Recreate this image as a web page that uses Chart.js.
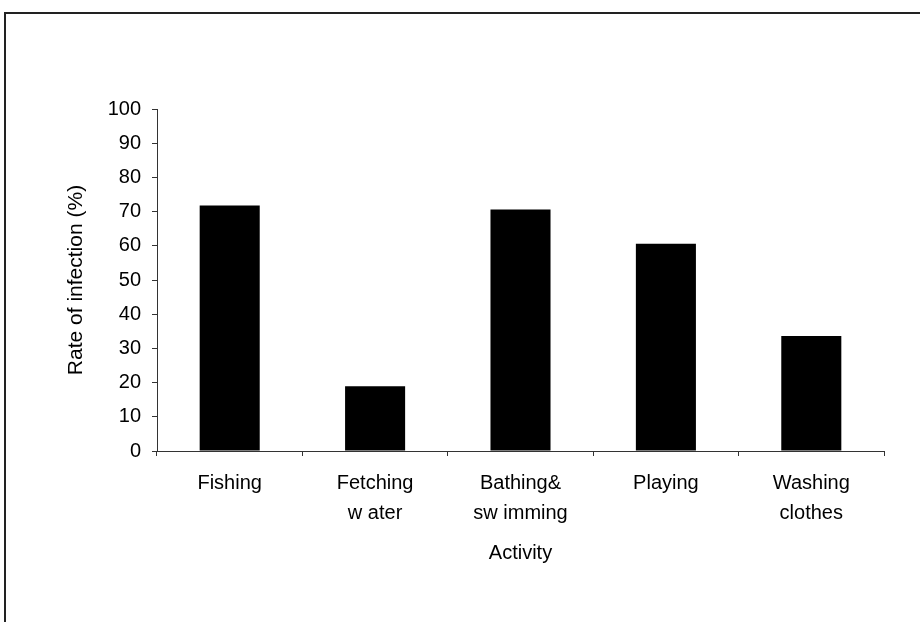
<!DOCTYPE html>
<html>
<head>
<meta charset="utf-8">
<title>Rate of infection by activity</title>
<script src="https://cdn.jsdelivr.net/npm/chart.js@4/dist/chart.umd.min.js"></script>
<style>
  html, body { margin: 0; padding: 0; background: #fff; }
  #wrap { width: 920px; height: 622px; position: relative; }
</style>
</head>
<body>
<div id="wrap"><canvas id="c" width="920" height="622"></canvas></div>
<script>
// Activities (two-line labels are given as arrays)
const activities = [
  'Fishing',
  ['Fetching', 'w ater'],
  ['Bathing&', 'sw imming'],
  'Playing',
  ['Washing', 'clothes']
];
// Rate of infection (%) per activity
const infectionRate = [71.8, 18.9, 70.6, 60.6, 33.6];
// Value axis range
const yMin = 0;
const yMax = 100;
const yStep = 10;

const FONT = "'Liberation Sans', Arial, sans-serif";
const INK = '#000';
const AXIS = '#333';

// Thin frame along the top and left edges of the figure
const framePlugin = {
  id: 'frame',
  beforeDraw(chart) {
    const ctx = chart.ctx;
    ctx.save();
    ctx.fillStyle = '#fff';
    ctx.fillRect(0, 0, chart.width, chart.height);
    ctx.strokeStyle = '#222';
    ctx.lineWidth = 2;
    ctx.beginPath();
    ctx.moveTo(5, chart.height);
    ctx.lineTo(5, 13);
    ctx.lineTo(chart.width, 13);
    ctx.stroke();
    ctx.restore();
  }
};

new Chart(document.getElementById('c'), {
  type: 'bar',
  data: {
    labels: activities,
    datasets: [{
      data: infectionRate,
      backgroundColor: '#000',
      borderWidth: 0,
      categoryPercentage: 1.0,
      barPercentage: 0.413
    }]
  },
  options: {
    responsive: false,
    animation: false,
    devicePixelRatio: 1,
    layout: { padding: { top: 109, right: 36, bottom: 0, left: 0 } },
    plugins: {
      legend: { display: false },
      tooltip: { enabled: false }
    },
    scales: {
      x: {
        grid: {
          offset: true,
          drawOnChartArea: false,
          drawTicks: true,
          tickLength: 5,
          color: AXIS,
          lineWidth: 1
        },
        border: { display: true, color: AXIS, width: 1 },
        ticks: {
          color: INK,
          padding: 12,
          maxRotation: 0,
          autoSkip: false,
          font: { family: FONT, size: 20, lineHeight: 1.5 }
        },
        title: {
          display: true,
          text: 'Activity',
          color: INK,
          font: { family: FONT, size: 20, lineHeight: 1.2 },
          padding: { top: 0, bottom: 57 }
        },
        afterFit(scale) { scale.height = 171; }
      },
      y: {
        min: yMin,
        max: yMax,
        grid: {
          drawOnChartArea: false,
          drawTicks: true,
          tickLength: 5,
          color: AXIS,
          lineWidth: 1
        },
        border: { display: true, color: AXIS, width: 1 },
        ticks: {
          stepSize: yStep,
          color: INK,
          padding: 11,
          font: { family: FONT, size: 20 }
        },
        title: {
          display: true,
          text: 'Rate of infection (%)',
          color: INK,
          font: { family: FONT, size: 21, lineHeight: 1.2 },
          padding: { top: 64, bottom: 0 }
        },
        afterFit(scale) { scale.width = 157; }
      }
    }
  },
  plugins: [framePlugin]
});
</script>
</body>
</html>
